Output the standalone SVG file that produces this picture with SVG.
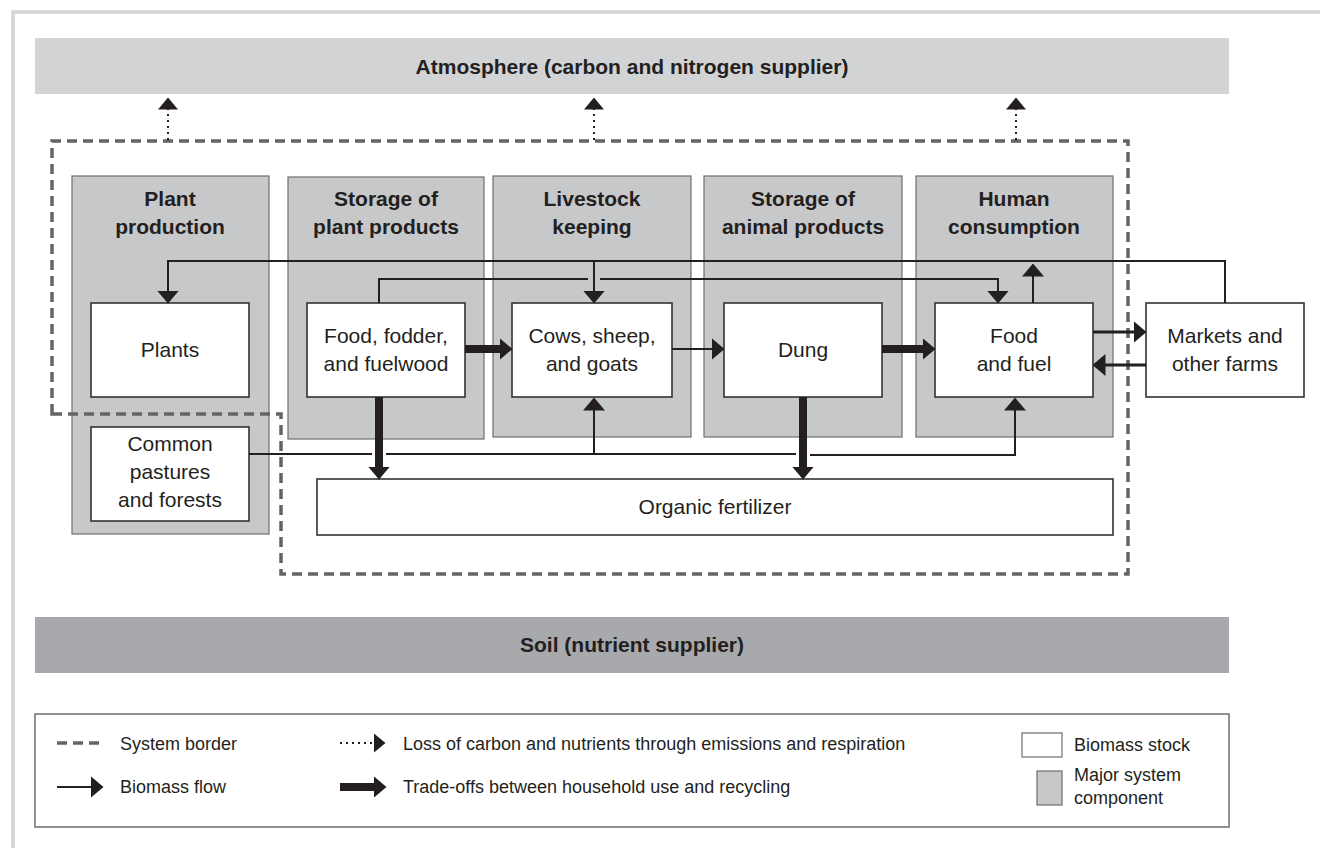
<svg xmlns="http://www.w3.org/2000/svg" width="1320" height="848" viewBox="0 0 1320 848">
<style>
text{font-family:"Liberation Sans",Arial,sans-serif;fill:#231f20}
.hd{font-size:21px;font-weight:bold;text-anchor:middle}
.nt{font-size:21px;text-anchor:middle}
.lg{font-size:18px}
.comp{fill:#c7c8ca;stroke:#6d6e71;stroke-width:1.2}
.stock{fill:#fff;stroke:#333;stroke-width:1.6}
.flow{fill:none;stroke:#231f20;stroke-width:2}
.flow3{fill:none;stroke:#231f20;stroke-width:3}
.thick{fill:none;stroke:#231f20;stroke-width:8}
.dot{fill:none;stroke:#231f20;stroke-width:2;stroke-dasharray:2,4}
.border{fill:none;stroke:#636466;stroke-width:3.5;stroke-dasharray:10,6}
</style>
<defs>
<marker id="ah" markerUnits="userSpaceOnUse" markerWidth="13" markerHeight="22" viewBox="0 0 13 22" refX="0.5" refY="11" orient="auto"><path d="M0,0 L13,11 L0,22 Z" fill="#231f20"/></marker>
<marker id="ahd" markerUnits="userSpaceOnUse" markerWidth="12" markerHeight="20" viewBox="0 0 12 20" refX="0.5" refY="10" orient="auto"><path d="M0,0 L12,10 L0,20 Z" fill="#231f20"/></marker>
</defs>
<rect width="1320" height="848" fill="#fff"/>
<path d="M13,848 V12 H1320" fill="none" stroke="#d1d3d4" stroke-width="3.5"/>

<g id="atmosphere">
<rect x="35" y="38" width="1194" height="56" fill="#d1d3d4"/>
<text class="hd" x="632" y="74">Atmosphere (carbon and nitrogen supplier)</text>
</g>

<g id="soil">
<rect x="35" y="617" width="1194" height="56" fill="#a7a9ac"/>
<text class="hd" x="632" y="652">Soil (nutrient supplier)</text>
</g>

<g id="plant-production">
<rect class="comp" x="72" y="176" width="197" height="358"/>
<text class="hd" x="170" y="206">Plant</text>
<text class="hd" x="170" y="234">production</text>
</g>
<g id="storage-plant">
<rect class="comp" x="288" y="177" width="196" height="262"/>
<text class="hd" x="386" y="206">Storage of</text>
<text class="hd" x="386" y="234">plant products</text>
</g>
<g id="livestock-keeping">
<rect class="comp" x="493" y="176" width="198" height="261"/>
<text class="hd" x="592" y="206">Livestock</text>
<text class="hd" x="592" y="234">keeping</text>
</g>
<g id="storage-animal">
<rect class="comp" x="704" y="176" width="198" height="261"/>
<text class="hd" x="803" y="206">Storage of</text>
<text class="hd" x="803" y="234">animal products</text>
</g>
<g id="human-consumption">
<rect class="comp" x="916" y="176" width="197" height="261"/>
<text class="hd" x="1014" y="206">Human</text>
<text class="hd" x="1014" y="234">consumption</text>
</g>

<g id="system-border">
<path class="border" d="M52,414 V141 H1128 V574 H281 V414 Z"/>
</g>

<g id="plants">
<rect class="stock" x="91" y="303" width="158" height="94"/>
<text class="nt" x="170" y="357">Plants</text>
</g>
<g id="food-fodder">
<rect class="stock" x="307" y="303" width="158" height="94"/>
<text class="nt" x="386" y="343">Food, fodder,</text>
<text class="nt" x="386" y="371">and fuelwood</text>
</g>
<g id="cows">
<rect class="stock" x="512" y="303" width="160" height="94"/>
<text class="nt" x="592" y="343">Cows, sheep,</text>
<text class="nt" x="592" y="371">and goats</text>
</g>
<g id="dung">
<rect class="stock" x="724" y="303" width="158" height="94"/>
<text class="nt" x="803" y="357">Dung</text>
</g>
<g id="food-fuel">
<rect class="stock" x="935" y="303" width="158" height="94"/>
<text class="nt" x="1014" y="343">Food</text>
<text class="nt" x="1014" y="371">and fuel</text>
</g>
<g id="markets">
<rect class="stock" x="1146" y="303" width="158" height="94"/>
<text class="nt" x="1225" y="343">Markets and</text>
<text class="nt" x="1225" y="371">other farms</text>
</g>
<g id="common-pastures">
<rect class="stock" x="91" y="427" width="158" height="94"/>
<text class="nt" x="170" y="451">Common</text>
<text class="nt" x="170" y="479">pastures</text>
<text class="nt" x="170" y="507">and forests</text>
</g>
<g id="organic-fertilizer">
<rect class="stock" x="317" y="479" width="796" height="56"/>
<text class="nt" x="715" y="514">Organic fertilizer</text>
</g>

<g id="connectors">
<path class="dot" d="M168,140 V109" marker-end="url(#ahd)"/>
<path class="dot" d="M594,140 V109" marker-end="url(#ahd)"/>
<path class="dot" d="M1016,140 V109" marker-end="url(#ahd)"/>

<path class="flow" d="M1225,303 V261 H168 V291" marker-end="url(#ah)"/>
<path class="flow" d="M594,261 V291" marker-end="url(#ah)"/>
<path class="flow" d="M379,303 V279 H588"/>
<path class="flow" d="M600,279 H998 V291" marker-end="url(#ah)"/>
<path class="flow" d="M1033,303 V276" marker-end="url(#ah)"/>

<path class="thick" d="M465,349 H500" marker-end="url(#ah)"/>
<path class="flow" d="M672,349 H712" marker-end="url(#ah)"/>
<path class="thick" d="M882,349 H923" marker-end="url(#ah)"/>
<path class="flow3" d="M1093,332 H1134" marker-end="url(#ah)"/>
<path class="flow3" d="M1146,365 H1105" marker-end="url(#ah)"/>

<path class="flow" d="M249,454 H372"/>
<path class="flow" d="M386,454 H796"/>
<path class="flow" d="M810,455 H1015 V410" marker-end="url(#ah)"/>
<path class="flow" d="M594,454 V410" marker-end="url(#ah)"/>
<path class="thick" d="M379,397 V467" marker-end="url(#ah)"/>
<path class="thick" d="M803,397 V467" marker-end="url(#ah)"/>
</g>

<g id="legend">
<rect x="35" y="714" width="1194" height="113" fill="#fff" stroke="#6d6e71" stroke-width="1.5"/>
<path class="border" d="M57,743 H103"/>
<text class="lg" x="120" y="750">System border</text>
<path class="flow" d="M57,787 H91" marker-end="url(#ah)"/>
<text class="lg" x="120" y="793">Biomass flow</text>
<path class="dot" d="M340,743 H374" marker-end="url(#ahd)"/>
<text class="lg" x="403" y="750">Loss of carbon and nutrients through emissions and respiration</text>
<path class="thick" d="M340,787 H374" marker-end="url(#ah)"/>
<text class="lg" x="403" y="793">Trade-offs between household use and recycling</text>
<rect x="1022" y="733" width="40" height="24" fill="#fff" stroke="#6d6e71" stroke-width="1.2"/>
<text class="lg" x="1074" y="751">Biomass stock</text>
<rect class="comp" x="1037" y="771" width="25" height="34"/>
<text class="lg" x="1074" y="781">Major system</text>
<text class="lg" x="1074" y="804">component</text>
</g>
</svg>
